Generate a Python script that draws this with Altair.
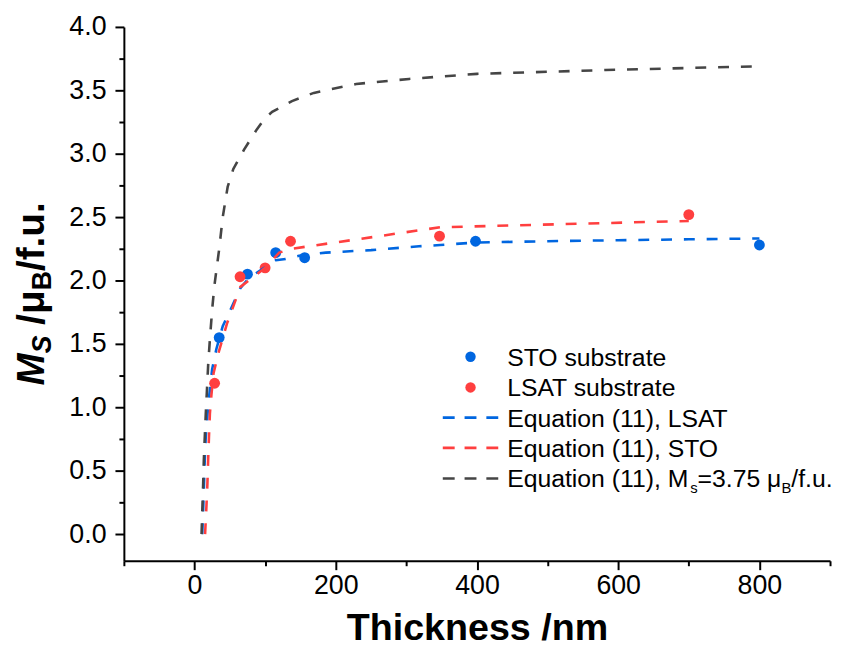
import altair as alt
import pandas as pd

# ---- data ----
sto_x = [35, 75, 115, 156, 398, 800]
sto_y = [1.55, 2.05, 2.22, 2.18, 2.31, 2.28]
lsat_x = [28.5, 64.5, 100, 136, 347, 700]
lsat_y = [1.19, 2.03, 2.10, 2.31, 2.35, 2.52]

eq_lsat_x = [11, 12.5, 13.5, 14.5, 16, 18.5, 21, 25, 31, 40, 51, 65, 77, 96, 115, 129, 148, 186, 250, 318, 348, 398, 500, 600, 700, 800]
eq_lsat_y = [0, 0.23, 0.4, 0.58, 0.77, 0.95, 1.1, 1.3, 1.46, 1.64, 1.77, 1.94, 2.02, 2.09, 2.16, 2.17, 2.195, 2.22, 2.24, 2.27, 2.28, 2.30, 2.31, 2.318, 2.325, 2.332]

eq_sto_x = [15, 17, 18.3, 19.3, 20.5, 21.8, 24, 27, 35, 46, 65, 100, 120, 137, 348, 700]
eq_sto_y = [0, 0.23, 0.4, 0.58, 0.77, 0.95, 1.1, 1.27, 1.45, 1.66, 1.95, 2.1, 2.22, 2.25, 2.42, 2.47]

eq_ms_x = [10, 11.3, 12.3, 13.2, 14.6, 16, 17.5, 19.5, 22, 25, 28, 31, 35, 40, 47, 55, 70, 88, 100, 110, 138, 169, 229, 304, 400, 582, 800]
eq_ms_y = [0, 0.23, 0.4, 0.58, 0.77, 0.95, 1.12, 1.35, 1.55, 1.77, 1.95, 2.08, 2.25, 2.5, 2.74, 2.88, 3.03, 3.19, 3.28, 3.33, 3.415, 3.48, 3.55, 3.59, 3.63, 3.66, 3.69]

legend_labels = ["STO substrate", "LSAT substrate", "Equation (11), LSAT", "Equation (11), STO"]
x_title = "Thickness /nm"

BLUE = "#0066E0"
RED = "#FF3F3F"
GRAY = "#454545"
FONT = "Liberation Sans"

W, H = 713, 539

xscale = alt.Scale(domain=[-100, 900], nice=False, zero=False)
yscale = alt.Scale(domain=[-0.21, 4.0], nice=False, zero=False)

xaxis = alt.Axis(
    values=list(range(-100, 901, 100)),
    labelExpr="datum.value % 200 === 0 ? datum.label : ''",
    tickSize={"condition": {"test": "datum.value % 200 !== 0", "value": 5}, "value": 9},
    title=x_title, titleFontSize=38, titleFontWeight="bold", titlePadding=12,
    labelPadding=3, labelOverlap=False, labelFlush=False, grid=False,
)
yaxis = alt.Axis(
    values=[i * 0.25 for i in range(17)],
    labelExpr="datum.value % 0.5 === 0 ? format(datum.value, '.1f') : ''",
    tickSize={"condition": {"test": "datum.value % 0.5 !== 0", "value": 5}, "value": 9},
    title=None, labelPadding=9, labelOverlap=False, labelFlush=False, grid=False,
)
X = alt.X("x:Q", scale=xscale, axis=xaxis)
Y = alt.Y("y:Q", scale=yscale, axis=yaxis)


def line(xv, yv, color):
    df = pd.DataFrame({"x": xv, "y": yv})
    return alt.Chart(df).mark_line(color=color, strokeWidth=2.6, strokeDash=[11, 12]).encode(
        x=X, y=Y, order=alt.Order("x:Q"))


def pts(xv, yv, color):
    df = pd.DataFrame({"x": xv, "y": yv})
    return alt.Chart(df).mark_circle(color=color, size=120, opacity=1).encode(x=X, y=Y)


one = pd.DataFrame({"a": [0]})


def txt(s, x, y, size, weight="normal", style="normal", angle=0, color="black"):
    return alt.Chart(one).mark_text(
        text=s, font=FONT, fontSize=size, fontWeight=weight, fontStyle=style,
        angle=angle, align="left", baseline="alphabetic", color=color,
    ).encode(x=alt.value(x), y=alt.value(y))


layers = [
    pts(sto_x, sto_y, BLUE),
    pts(lsat_x, lsat_y, RED),
    line(eq_lsat_x, eq_lsat_y, BLUE),
    line(eq_sto_x, eq_sto_y, RED),
    line(eq_ms_x, eq_ms_y, GRAY),
]

# ---- legend (manual, to allow subscripts) ----
lx_sym, lx0, lx1, lx_txt = 350, 322, 380, 387
rows = [333, 364, 394.5, 425, 456]
LF = 25
for i, (lab, col) in enumerate(zip(legend_labels[:2], [BLUE, RED])):
    layers.append(alt.Chart(one).mark_circle(color=col, size=110, opacity=1).encode(
        x=alt.value(lx_sym), y=alt.value(rows[i])))
for i, col in zip([2, 3, 4], [BLUE, RED, GRAY]):
    layers.append(alt.Chart(one).mark_rule(color=col, strokeWidth=2.6, strokeDash=[12, 10]).encode(
        x=alt.value(lx0), x2=alt.value(lx1), y=alt.value(rows[i])))
for i in range(4):
    layers.append(txt(legend_labels[i], lx_txt, rows[i] + 9, LF))

# last legend entry with subscripts (Arial metrics)
SUB = 15
w1 = 7.392 * LF
w_s = 0.5 * SUB
w2 = 3.384 * LF
w_b = 0.667 * SUB
base = rows[4] + 9
xx = lx_txt
layers.append(txt("Equation (11), M", xx, base, LF)); xx += w1
layers.append(txt("s", xx, base + 6, SUB)); xx += w_s
layers.append(txt("=3.75 \u03bc", xx, base, LF)); xx += w2
layers.append(txt("B", xx, base + 6, SUB)); xx += w_b
layers.append(txt("/f.u.", xx, base, LF))

# ---- y-axis title, rotated, with subscripts ----
TF, TS = 39, 27
pieces = [
    ("M", TF, "italic", 0.833 * TF, 0, 0),
    ("S", TS, "italic", 0.667 * TS, 7, 0),
    ("/\u03bc", TF, "normal", 0.889 * TF, 0, 0.278 * TF),
    ("B", TS, "normal", 0.722 * TS, 7, 0),
    ("/f.u.", TF, "normal", 1.778 * TF, 0, 0),
]
total = sum(p[3] + p[5] for p in pieces)
yy = H / 2 + total / 2
bx = -81
for s, sz, st, w, sh, gap in pieces:
    yy -= gap
    layers.append(txt(s, bx + sh, yy, sz, weight="bold", style=st, angle=270))
    yy -= w

chart = alt.layer(*layers).properties(
    width=W, height=H,
    autosize=alt.AutoSizeParams(type="none"),
    padding={"left": 117, "top": 16, "right": 3, "bottom": 88},
).configure(font=FONT).configure_view(stroke=None).configure_axis(
    grid=False, domainColor="black", domainWidth=2, tickColor="black", tickWidth=2,
    labelColor="black", labelFont=FONT, labelFontSize=27, titleFont=FONT, titleColor="black",
)

chart.save("out.html", embed_options={"renderer": "svg", "actions": False})
